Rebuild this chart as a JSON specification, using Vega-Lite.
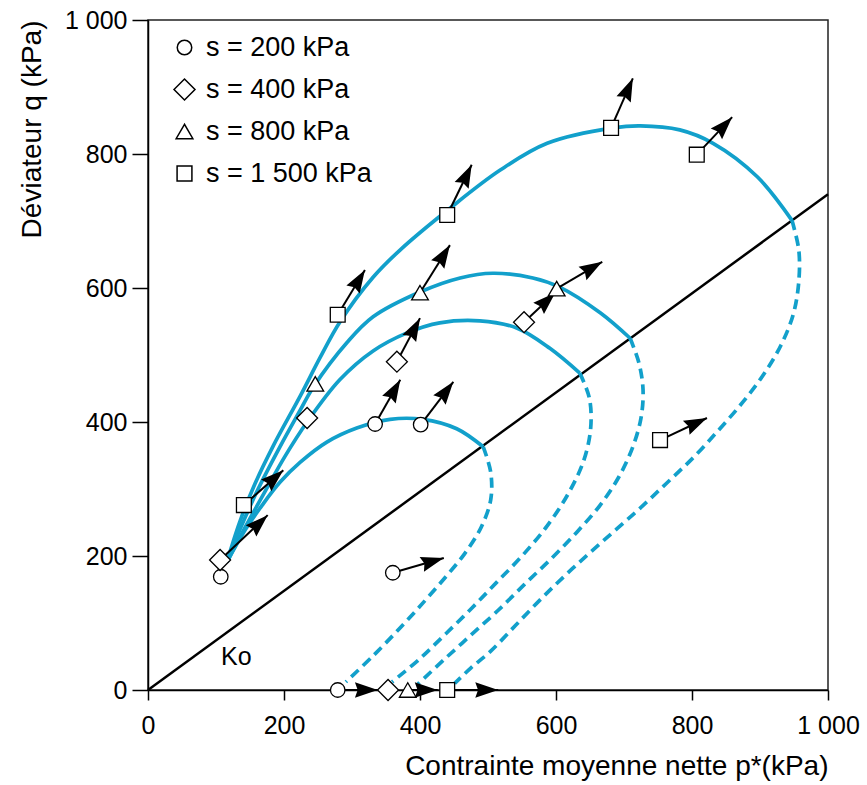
{
  "$schema": "https://vega.github.io/schema/vega-lite/v6.json",
  "width": 680,
  "height": 670,
  "autosize": {"type": "none"},
  "padding": {"left": 148, "top": 20, "right": 39, "bottom": 95},
  "background": "white",
  "config": {
    "font": "Liberation Sans",
    "view": {"stroke": "#222222", "strokeWidth": 1.5},
    "axis": {
      "grid": false,
      "domainColor": "black",
      "domainWidth": 1.5,
      "tickColor": "black",
      "tickWidth": 1.5,
      "labelColor": "black",
      "labelFontSize": 25,
      "labelFont": "Liberation Sans",
      "labelFlush": false,
      "labelOverlap": false,
      "titleFont": "Liberation Sans",
      "titleFontSize": 28,
      "titleFontWeight": "normal",
      "titleColor": "black",
      "titleAnchor": "end"
    }
  },
  "datasets": {
    "ko": [{"p": 0, "q": 0}, {"p": 1000, "q": 740}],
    "curves": [
      {"s": "200", "part": "solid", "o": 1, "p": 116, "q": 191},
      {"s": "200", "part": "solid", "o": 2, "p": 143, "q": 239},
      {"s": "200", "part": "solid", "o": 3, "p": 168, "q": 276},
      {"s": "200", "part": "solid", "o": 4, "p": 194, "q": 310},
      {"s": "200", "part": "solid", "o": 5, "p": 224, "q": 340},
      {"s": "200", "part": "solid", "o": 6, "p": 263, "q": 370},
      {"s": "200", "part": "solid", "o": 7, "p": 307, "q": 391},
      {"s": "200", "part": "solid", "o": 8, "p": 356, "q": 404},
      {"s": "200", "part": "solid", "o": 9, "p": 404, "q": 404},
      {"s": "200", "part": "solid", "o": 10, "p": 454, "q": 390},
      {"s": "200", "part": "solid", "o": 11, "p": 493, "q": 363},
      {"s": "200", "part": "dashed", "o": 1, "p": 493, "q": 363},
      {"s": "200", "part": "dashed", "o": 2, "p": 504, "q": 325},
      {"s": "200", "part": "dashed", "o": 3, "p": 504, "q": 284},
      {"s": "200", "part": "dashed", "o": 4, "p": 490, "q": 243},
      {"s": "200", "part": "dashed", "o": 5, "p": 466, "q": 204},
      {"s": "200", "part": "dashed", "o": 6, "p": 438, "q": 169},
      {"s": "200", "part": "dashed", "o": 7, "p": 407, "q": 133},
      {"s": "200", "part": "dashed", "o": 8, "p": 372, "q": 94},
      {"s": "200", "part": "dashed", "o": 9, "p": 332, "q": 52},
      {"s": "200", "part": "dashed", "o": 10, "p": 291, "q": 12},

      {"s": "400", "part": "solid", "o": 1, "p": 116, "q": 191},
      {"s": "400", "part": "solid", "o": 2, "p": 143, "q": 243},
      {"s": "400", "part": "solid", "o": 3, "p": 172, "q": 296},
      {"s": "400", "part": "solid", "o": 4, "p": 201, "q": 348},
      {"s": "400", "part": "solid", "o": 5, "p": 234, "q": 400},
      {"s": "400", "part": "solid", "o": 6, "p": 282, "q": 463},
      {"s": "400", "part": "solid", "o": 7, "p": 331, "q": 506},
      {"s": "400", "part": "solid", "o": 8, "p": 381, "q": 533},
      {"s": "400", "part": "solid", "o": 9, "p": 429, "q": 548},
      {"s": "400", "part": "solid", "o": 10, "p": 488, "q": 551},
      {"s": "400", "part": "solid", "o": 11, "p": 543, "q": 540},
      {"s": "400", "part": "solid", "o": 12, "p": 591, "q": 510},
      {"s": "400", "part": "solid", "o": 13, "p": 635, "q": 473},
      {"s": "400", "part": "dashed", "o": 1, "p": 635, "q": 473},
      {"s": "400", "part": "dashed", "o": 2, "p": 649, "q": 436},
      {"s": "400", "part": "dashed", "o": 3, "p": 651, "q": 391},
      {"s": "400", "part": "dashed", "o": 4, "p": 641, "q": 343},
      {"s": "400", "part": "dashed", "o": 5, "p": 618, "q": 293},
      {"s": "400", "part": "dashed", "o": 6, "p": 587, "q": 245},
      {"s": "400", "part": "dashed", "o": 7, "p": 550, "q": 200},
      {"s": "400", "part": "dashed", "o": 8, "p": 513, "q": 161},
      {"s": "400", "part": "dashed", "o": 9, "p": 476, "q": 122},
      {"s": "400", "part": "dashed", "o": 10, "p": 438, "q": 84},
      {"s": "400", "part": "dashed", "o": 11, "p": 399, "q": 46},
      {"s": "400", "part": "dashed", "o": 12, "p": 359, "q": 12},

      {"s": "800", "part": "solid", "o": 1, "p": 116, "q": 191},
      {"s": "800", "part": "solid", "o": 2, "p": 135, "q": 239},
      {"s": "800", "part": "solid", "o": 3, "p": 160, "q": 296},
      {"s": "800", "part": "solid", "o": 4, "p": 194, "q": 363},
      {"s": "800", "part": "solid", "o": 5, "p": 224, "q": 418},
      {"s": "800", "part": "solid", "o": 6, "p": 243, "q": 452},
      {"s": "800", "part": "solid", "o": 7, "p": 293, "q": 519},
      {"s": "800", "part": "solid", "o": 8, "p": 331, "q": 557},
      {"s": "800", "part": "solid", "o": 9, "p": 400, "q": 594},
      {"s": "800", "part": "solid", "o": 10, "p": 459, "q": 615},
      {"s": "800", "part": "solid", "o": 11, "p": 507, "q": 622},
      {"s": "800", "part": "solid", "o": 12, "p": 566, "q": 615},
      {"s": "800", "part": "solid", "o": 13, "p": 606, "q": 601},
      {"s": "800", "part": "solid", "o": 14, "p": 665, "q": 563},
      {"s": "800", "part": "solid", "o": 15, "p": 709, "q": 525},
      {"s": "800", "part": "dashed", "o": 1, "p": 709, "q": 525},
      {"s": "800", "part": "dashed", "o": 2, "p": 722, "q": 488},
      {"s": "800", "part": "dashed", "o": 3, "p": 728, "q": 448},
      {"s": "800", "part": "dashed", "o": 4, "p": 725, "q": 406},
      {"s": "800", "part": "dashed", "o": 5, "p": 713, "q": 363},
      {"s": "800", "part": "dashed", "o": 6, "p": 693, "q": 319},
      {"s": "800", "part": "dashed", "o": 7, "p": 665, "q": 276},
      {"s": "800", "part": "dashed", "o": 8, "p": 631, "q": 236},
      {"s": "800", "part": "dashed", "o": 9, "p": 594, "q": 197},
      {"s": "800", "part": "dashed", "o": 10, "p": 554, "q": 158},
      {"s": "800", "part": "dashed", "o": 11, "p": 515, "q": 119},
      {"s": "800", "part": "dashed", "o": 12, "p": 475, "q": 82},
      {"s": "800", "part": "dashed", "o": 13, "p": 435, "q": 45},
      {"s": "800", "part": "dashed", "o": 14, "p": 397, "q": 9},

      {"s": "1500", "part": "solid", "o": 1, "p": 116, "q": 191},
      {"s": "1500", "part": "solid", "o": 2, "p": 135, "q": 251},
      {"s": "1500", "part": "solid", "o": 3, "p": 157, "q": 307},
      {"s": "1500", "part": "solid", "o": 4, "p": 184, "q": 364},
      {"s": "1500", "part": "solid", "o": 5, "p": 224, "q": 439},
      {"s": "1500", "part": "solid", "o": 6, "p": 253, "q": 496},
      {"s": "1500", "part": "solid", "o": 7, "p": 282, "q": 549},
      {"s": "1500", "part": "solid", "o": 8, "p": 331, "q": 616},
      {"s": "1500", "part": "solid", "o": 9, "p": 371, "q": 657},
      {"s": "1500", "part": "solid", "o": 10, "p": 444, "q": 719},
      {"s": "1500", "part": "solid", "o": 11, "p": 518, "q": 776},
      {"s": "1500", "part": "solid", "o": 12, "p": 587, "q": 816},
      {"s": "1500", "part": "solid", "o": 13, "p": 684, "q": 839},
      {"s": "1500", "part": "solid", "o": 14, "p": 724, "q": 842},
      {"s": "1500", "part": "solid", "o": 15, "p": 782, "q": 836},
      {"s": "1500", "part": "solid", "o": 16, "p": 831, "q": 816},
      {"s": "1500", "part": "solid", "o": 17, "p": 896, "q": 766},
      {"s": "1500", "part": "solid", "o": 18, "p": 947, "q": 701},
      {"s": "1500", "part": "dashed", "o": 1, "p": 947, "q": 701},
      {"s": "1500", "part": "dashed", "o": 2, "p": 957, "q": 657},
      {"s": "1500", "part": "dashed", "o": 3, "p": 957, "q": 609},
      {"s": "1500", "part": "dashed", "o": 4, "p": 949, "q": 561},
      {"s": "1500", "part": "dashed", "o": 5, "p": 931, "q": 515},
      {"s": "1500", "part": "dashed", "o": 6, "p": 906, "q": 472},
      {"s": "1500", "part": "dashed", "o": 7, "p": 875, "q": 430},
      {"s": "1500", "part": "dashed", "o": 8, "p": 841, "q": 390},
      {"s": "1500", "part": "dashed", "o": 9, "p": 804, "q": 349},
      {"s": "1500", "part": "dashed", "o": 10, "p": 763, "q": 309},
      {"s": "1500", "part": "dashed", "o": 11, "p": 719, "q": 267},
      {"s": "1500", "part": "dashed", "o": 12, "p": 671, "q": 224},
      {"s": "1500", "part": "dashed", "o": 13, "p": 624, "q": 181},
      {"s": "1500", "part": "dashed", "o": 14, "p": 581, "q": 139},
      {"s": "1500", "part": "dashed", "o": 15, "p": 541, "q": 97},
      {"s": "1500", "part": "dashed", "o": 16, "p": 504, "q": 58},
      {"s": "1500", "part": "dashed", "o": 17, "p": 475, "q": 33},
      {"s": "1500", "part": "dashed", "o": 18, "p": 451, "q": 10}
    ],
    "arrows": [
      {"p": 106, "q": 194, "p2": 176, "q2": 261},
      {"p": 141, "q": 276, "p2": 199, "q2": 328},
      {"p": 279, "q": 560, "p2": 319, "q2": 627},
      {"p": 366, "q": 490, "p2": 400, "q2": 555},
      {"p": 334, "q": 397, "p2": 371, "q2": 463},
      {"p": 401, "q": 396, "p2": 449, "q2": 460},
      {"p": 400, "q": 593, "p2": 444, "q2": 664},
      {"p": 440, "q": 709, "p2": 476, "q2": 784},
      {"p": 553, "q": 549, "p2": 599, "q2": 593},
      {"p": 601, "q": 599, "p2": 668, "q2": 639},
      {"p": 681, "q": 839, "p2": 713, "q2": 913},
      {"p": 807, "q": 799, "p2": 859, "q2": 855},
      {"p": 753, "q": 373, "p2": 822, "q2": 406},
      {"p": 360, "q": 175, "p2": 435, "q2": 197},
      {"p": 279, "q": 0, "p2": 338, "q2": 0},
      {"p": 382, "q": 0, "p2": 426, "q2": 0},
      {"p": 440, "q": 0, "p2": 515, "q2": 0}
    ],
    "markers": [
      {"s": "s = 200 kPa", "p": 107, "q": 169},
      {"s": "s = 200 kPa", "p": 334, "q": 397},
      {"s": "s = 200 kPa", "p": 401, "q": 396},
      {"s": "s = 200 kPa", "p": 360, "q": 175},
      {"s": "s = 200 kPa", "p": 279, "q": 0},
      {"s": "s = 400 kPa", "p": 106, "q": 194},
      {"s": "s = 400 kPa", "p": 234, "q": 406},
      {"s": "s = 400 kPa", "p": 366, "q": 490},
      {"s": "s = 400 kPa", "p": 553, "q": 549},
      {"s": "s = 400 kPa", "p": 353, "q": 0},
      {"s": "s = 800 kPa", "p": 246, "q": 457},
      {"s": "s = 800 kPa", "p": 400, "q": 593},
      {"s": "s = 800 kPa", "p": 601, "q": 599},
      {"s": "s = 800 kPa", "p": 382, "q": 0},
      {"s": "s = 1 500 kPa", "p": 279, "q": 560},
      {"s": "s = 1 500 kPa", "p": 141, "q": 276},
      {"s": "s = 1 500 kPa", "p": 440, "q": 709},
      {"s": "s = 1 500 kPa", "p": 681, "q": 839},
      {"s": "s = 1 500 kPa", "p": 807, "q": 799},
      {"s": "s = 1 500 kPa", "p": 753, "q": 373},
      {"s": "s = 1 500 kPa", "p": 440, "q": 0}
    ],
    "labels": [{"p": 130, "q": 50, "t": "Ko"}]
  },
  "encoding": {
    "x": {
      "field": "p", "type": "quantitative",
      "scale": {"domain": [0, 1000], "nice": false, "zero": false},
      "axis": {
        "title": "Contrainte moyenne nette p*(kPa)",
        "values": [0, 200, 400, 600, 800, 1000],
        "labelExpr": "datum.value == 1000 ? '1 000' : datum.label",
        "tickSize": 10,
        "labelPadding": 13,
        "titlePadding": 14
      }
    },
    "y": {
      "field": "q", "type": "quantitative",
      "scale": {"domain": [0, 1000], "nice": false, "zero": false},
      "axis": {
        "title": "Déviateur q (kPa)",
        "values": [0, 200, 400, 600, 800, 1000],
        "labelExpr": "datum.value == 1000 ? '1 000' : datum.label",
        "tickSize": 16,
        "labelPadding": 5,
        "titlePadding": 18
      }
    }
  },
  "layer": [
    {
      "data": {"name": "ko"},
      "mark": {"type": "line", "color": "black", "strokeWidth": 2.5},
      "encoding": {}
    },
    {
      "data": {"name": "curves"},
      "transform": [{"filter": "datum.part == 'solid'"}],
      "mark": {"type": "line", "color": "#12a0cb", "strokeWidth": 3.7, "interpolate": "catmull-rom"},
      "encoding": {
        "detail": {"field": "s"},
        "order": {"field": "o", "type": "quantitative"}
      }
    },
    {
      "data": {"name": "curves"},
      "transform": [{"filter": "datum.part == 'dashed'"}],
      "mark": {"type": "line", "color": "#12a0cb", "strokeWidth": 3.7, "interpolate": "catmull-rom", "strokeDash": [10, 6]},
      "encoding": {
        "detail": {"field": "s"},
        "order": {"field": "o", "type": "quantitative"}
      }
    },
    {
      "data": {"name": "arrows"},
      "mark": {"type": "rule", "color": "black", "strokeWidth": 2},
      "encoding": {
        "x2": {"field": "p2"},
        "y2": {"field": "q2"}
      }
    },
    {
      "data": {"name": "arrows"},
      "transform": [
        {"calculate": "atan2((datum.p2 - datum.p) * 0.68, (datum.q2 - datum.q) * 0.67) * 180 / PI", "as": "ang"}
      ],
      "mark": {"type": "point", "shape": "M0,0L0.34,1L0,0.88L-0.34,1Z", "filled": true, "color": "black", "size": 2100, "opacity": 1},
      "encoding": {
        "x": {"field": "p2", "type": "quantitative"},
        "y": {"field": "q2", "type": "quantitative"},
        "angle": {"field": "ang", "type": "quantitative", "scale": null}
      }
    },
    {
      "data": {"name": "markers"},
      "mark": {"type": "point", "filled": true, "fill": "white", "stroke": "black", "strokeWidth": 1.3, "opacity": 1},
      "encoding": {
        "shape": {
          "field": "s", "type": "nominal",
          "scale": {
            "domain": ["s = 200 kPa", "s = 400 kPa", "s = 800 kPa", "s = 1 500 kPa"],
            "range": ["circle", "diamond", "triangle-up", "square"]
          },
          "legend": {
            "title": null,
            "orient": "none",
            "legendX": 23,
            "legendY": 14,
            "padding": 0,
            "labelFontSize": 27,
            "labelFont": "Liberation Sans",
            "labelColor": "black",
            "labelLimit": 400,
            "labelOffset": 8,
            "rowPadding": 14,
            "encode": {
              "symbols": {
                "update": {
                  "fill": {"value": "white"},
                  "stroke": {"value": "black"},
                  "strokeWidth": {"value": 1.3},
                  "opacity": {"value": 1}
                }
              }
            }
          }
        },
        "size": {
          "field": "s", "type": "nominal",
          "scale": {
            "type": "ordinal",
            "domain": ["s = 200 kPa", "s = 400 kPa", "s = 800 kPa", "s = 1 500 kPa"],
            "range": [210, 440, 280, 220]
          },
          "legend": {
            "title": null,
            "orient": "none",
            "legendX": 23,
            "legendY": 14,
            "padding": 0,
            "labelFontSize": 27,
            "labelFont": "Liberation Sans",
            "labelColor": "black",
            "labelLimit": 400,
            "labelOffset": 8,
            "rowPadding": 14,
            "encode": {
              "symbols": {
                "update": {
                  "fill": {"value": "white"},
                  "stroke": {"value": "black"},
                  "strokeWidth": {"value": 1.3},
                  "opacity": {"value": 1}
                }
              }
            }
          }
        }
      }
    },
    {
      "data": {"name": "labels"},
      "mark": {"type": "text", "fontSize": 25, "color": "black", "font": "Liberation Sans"},
      "encoding": {"text": {"field": "t"}}
    }
  ]
}
